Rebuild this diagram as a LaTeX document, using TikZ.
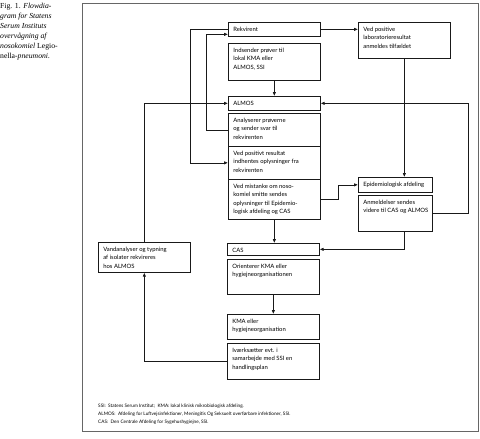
\documentclass[tikz,border=0pt]{standalone}
\usepackage{fontspec}
\setmainfont{Liberation Serif}
\newfontfamily\boxfam{Lato}
\usetikzlibrary{arrows.meta}
\newcommand\bxt[3]{\parbox[c][#2pt][t]{\dimexpr#1pt-9pt\relax}{\raggedright\rule{0pt}{8.9pt}#3}}
\begin{document}
\begin{tikzpicture}[x=1pt,y=-1pt,
  flowbox/.style={draw=black!90, line width=0.7pt, anchor=north west, inner xsep=5pt, inner ysep=0pt,
    font=\boxfam\fontsize{5.9}{8.5}\selectfont},
  conn/.style={draw=black!90, line width=0.7pt},
  arr/.style={conn, -{Latex[length=3.8pt,width=3.4pt]}},
  frame/.style={draw=black!60, line width=0.8pt},
  caption/.style={anchor=north west, inner sep=0pt, align=left, font=\fontsize{7.7}{10}\selectfont},
  footnote/.style={anchor=north west, inner sep=0pt, align=left, font=\boxfam\fontsize{4.7}{8.4}\selectfont}]
\useasboundingbox (0,0) rectangle (480,439);
\path[fill=white] (0,0) rectangle (480,439);
\draw[frame] (82,3) rectangle (478,431);
\node[caption] (cap) at (0,2.5) {Fig. 1. \textit{Flowdia-}\\\textit{gram for Statens}\\\textit{Serum Instituts}\\\textit{overvågning af}\\\textit{nosokomiel} Legio-\\nella-\textit{pneumoni.}};
% boxes
\node[flowbox] (rek) at (228,22) {\bxt{91}{14}{Rekvirent}};
\node[flowbox] (ind) at (228,43) {\bxt{91}{37}{Indsender prøver til\\lokal KMA eller\\ALMOS, SSI}};
\node[flowbox] (vpl) at (358,22) {\bxt{91}{36}{Ved positive\\laboratorieresultat\\anmeldes tilfældet}};
\node[flowbox] (almos) at (228,96) {\bxt{91}{14}{ALMOS}};
\node[flowbox] (ana) at (228,113) {\bxt{91}{33}{Analyserer prøverne\\og sender svar til\\rekvirenten}};
\node[flowbox] (vpr) at (228,146) {\bxt{91}{33}{Ved positivt resultat\\\mbox{indhentes oplysninger fra}\\rekvirenten}};
\node[flowbox] (vmi) at (228,179) {\bxt{91}{40}{Ved mistanke om noso-\\komiel smitte sendes\\\mbox{oplysninger til Epidemio-}\\logisk afdeling og CAS}};
\node[flowbox] (epi) at (358,177) {\bxt{73}{15}{\mbox{Epidemiologisk afdeling}}};
\node[flowbox] (anm) at (358,195) {\bxt{73}{36}{Anmeldelser sendes\\\mbox{videre til CAS og ALMOS}}};
\node[flowbox] (cas) at (227,243) {\bxt{91}{12}{CAS}};
\node[flowbox] (ori) at (227,259) {\bxt{91}{35}{Orienterer KMA eller\\hygiejneorganisationen}};
\node[flowbox] (kma) at (227,314) {\bxt{91}{25}{KMA eller\\hygiejneorganisation}};
\node[flowbox] (ivs) at (227,343) {\bxt{91}{36}{Iværksætter evt. i\\samarbejde med SSI en\\handlingsplan}};
\node[flowbox] (van) at (98,242) {\bxt{91}{30}{\mbox{Vandanalyser og typning}\\af isolater rekvireres\\hos ALMOS}};
% connectors
\draw[arr] (rek.east) -- (rek.east -| vpl.west);
\draw[arr] (ind.south) -- (ind.south |- almos.north);
\draw[arr] (vpl.south) -- (vpl.south |- epi.north);
\draw[arr] (anm.south -| vpl.south) |- (cas.east);
\draw[arr] (anm.east) -- ++(36,0) |- (almos.east);
\draw[arr] (vmi.east) -- ++(18,0) |- (epi.west);
\draw[arr] (vmi.south) -- (vmi.south |- cas.north);
\draw[arr] (ori.south) -- (ori.south |- kma.north);
\draw[arr] (ivs.west) -| (van.south);
\draw[arr] (van.north) |- (almos.west);
\draw[arr] (ana.west) -- ++(-22,0) |- ([yshift=-5pt]rek.west);
\draw[arr] (rek.west) -- ++(-38,0) |- (vpr.west);
% footnote
\node[footnote] (fn) at (98,403.5) {SSI:\ \ Statens Serum Institut;\ \ KMA: lokal klinisk mikrobiologisk afdeling.\\ALMOS:\ \ Afdeling for Luftvejsinfektioner, Meningitis Og Seksuelt overførbare infektioner, SSI.\\CAS:\ \ Den Centrale Afdeling for Sygehushygiejne, SSI.};
\end{tikzpicture}
\end{document}
